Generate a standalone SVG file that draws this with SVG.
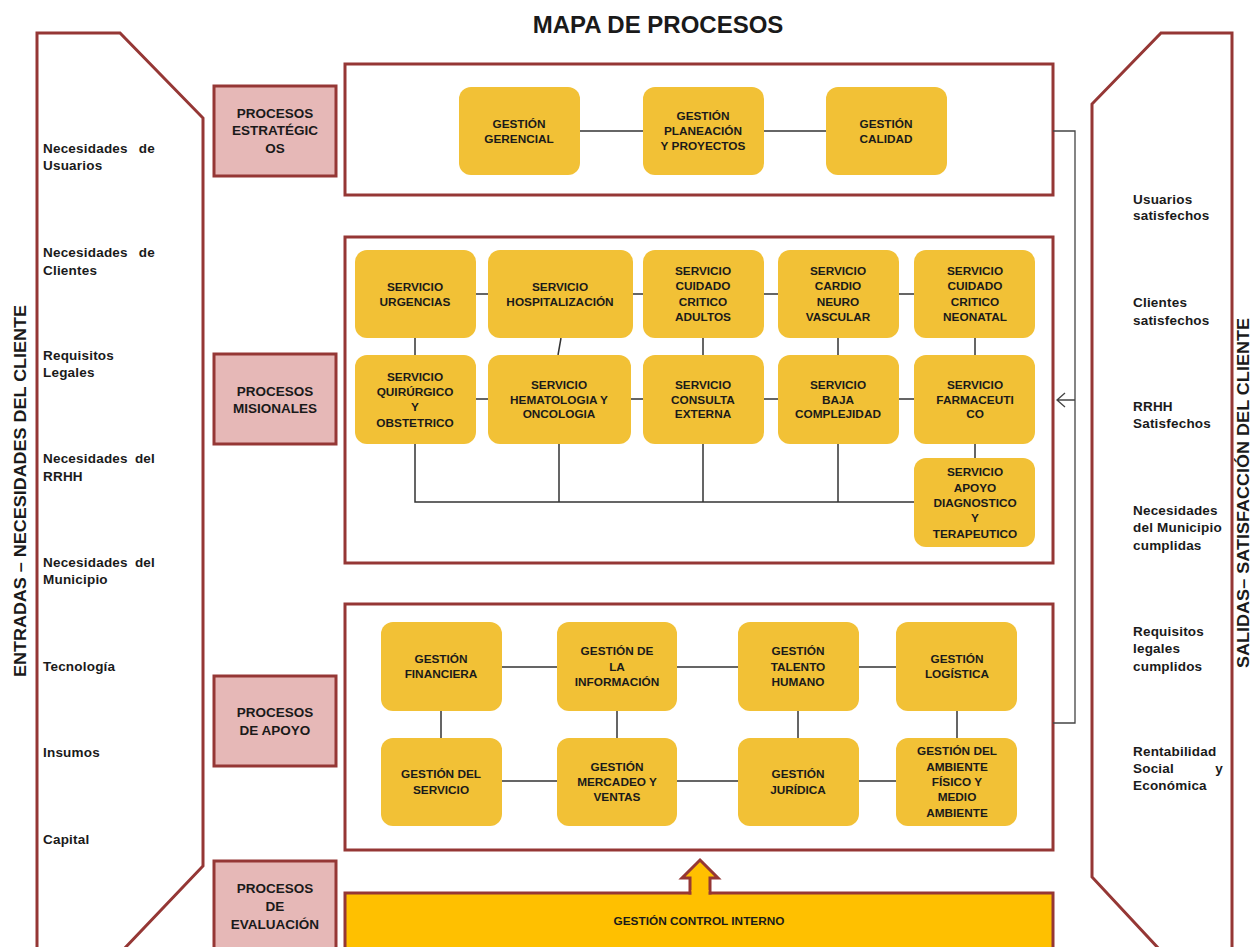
<svg xmlns="http://www.w3.org/2000/svg" width="1252" height="947" viewBox="0 0 1252 947">
<style>
.frame{fill:#fff;stroke:#953735;stroke-width:3}
.lbl{fill:#E6B8B7;stroke:#953735;stroke-width:3}
.node{fill:#F2C136;stroke:none}
.t{font-family:"Liberation Sans",Arial,sans-serif;font-weight:bold;font-size:11.8px;fill:#1a1a1a;text-anchor:middle}
.tl{font-family:"Liberation Sans",Arial,sans-serif;font-weight:bold;font-size:13.5px;fill:#1a1a1a;text-anchor:middle}
.side{font-family:"Liberation Sans",Arial,sans-serif;font-weight:bold;font-size:13.5px;letter-spacing:0.2px;fill:#1a1a1a}
.vt{font-family:"Liberation Sans",Arial,sans-serif;font-weight:bold;font-size:17px;fill:#1a1a1a;text-anchor:middle}
.c{stroke:#333;stroke-width:1.5;fill:none}
</style>
<rect width="1252" height="947" fill="#fff"/>
<text x="658" y="33" font-family="Liberation Sans,Arial,sans-serif" font-weight="bold" font-size="24" fill="#1a1a1a" text-anchor="middle">MAPA DE PROCESOS</text>

<g id="entradas">
<polygon points="37,960 37,33 120,33 203,118 203,866 123,950" class="frame"/>
<text class="vt" transform="translate(26,491) rotate(-90)" textLength="372" lengthAdjust="spacingAndGlyphs">ENTRADAS – NECESIDADES DEL CLIENTE</text>
<text class="side" x="43" y="153">Necesidades</text><text class="side" x="155" y="153" text-anchor="end">de</text>
<text class="side" x="43" y="170">Usuarios</text>
<text class="side" x="43" y="257">Necesidades</text><text class="side" x="155" y="257" text-anchor="end">de</text>
<text class="side" x="43" y="275">Clientes</text>
<text class="side" x="43" y="360">Requisitos</text>
<text class="side" x="43" y="377">Legales</text>
<text class="side" x="43" y="463">Necesidades</text><text class="side" x="155" y="463" text-anchor="end">del</text>
<text class="side" x="43" y="481">RRHH</text>
<text class="side" x="43" y="567">Necesidades</text><text class="side" x="155" y="567" text-anchor="end">del</text>
<text class="side" x="43" y="584">Municipio</text>
<text class="side" x="43" y="671">Tecnología</text>
<text class="side" x="43" y="757">Insumos</text>
<text class="side" x="43" y="844">Capital</text>
</g>

<g id="salidas">
<polygon points="1160,950 1092,877 1092,104 1161,33 1232,33 1232,960" class="frame"/>
<text class="vt" transform="translate(1249,493) rotate(-90)" textLength="350" lengthAdjust="spacingAndGlyphs">SALIDAS– SATISFACCIÓN DEL CLIENTE</text>
<text class="side" x="1133" y="204">Usuarios</text>
<text class="side" x="1133" y="220">satisfechos</text>
<text class="side" x="1133" y="307">Clientes</text>
<text class="side" x="1133" y="325">satisfechos</text>
<text class="side" x="1133" y="411">RRHH</text>
<text class="side" x="1133" y="428">Satisfechos</text>
<text class="side" x="1133" y="515">Necesidades</text>
<text class="side" x="1133" y="532">del Municipio</text>
<text class="side" x="1133" y="550">cumplidas</text>
<text class="side" x="1133" y="636">Requisitos</text>
<text class="side" x="1133" y="653">legales</text>
<text class="side" x="1133" y="671">cumplidos</text>
<text class="side" x="1133" y="756">Rentabilidad</text>
<text class="side" x="1133" y="773">Social</text><text class="side" x="1223" y="773" text-anchor="end">y</text>
<text class="side" x="1133" y="790">Económica</text>
</g>

<g id="lbl-estrategicos">
<rect x="214" y="86" width="122" height="90" class="lbl"/>
<text class="tl" x="275" y="118">PROCESOS</text><text class="tl" x="275" y="135">ESTRATÉGIC</text><text class="tl" x="275" y="153">OS</text>
</g>
<g id="lbl-misionales">
<rect x="214" y="354" width="122" height="90" class="lbl"/>
<text class="tl" x="275" y="396">PROCESOS</text><text class="tl" x="275" y="413">MISIONALES</text>
</g>
<g id="lbl-apoyo">
<rect x="214" y="676" width="122" height="90" class="lbl"/>
<text class="tl" x="275" y="717">PROCESOS</text><text class="tl" x="275" y="735">DE APOYO</text>
</g>
<g id="lbl-evaluacion">
<rect x="214" y="861" width="122" height="100" class="lbl"/>
<text class="tl" x="275" y="893">PROCESOS</text><text class="tl" x="275" y="911">DE</text><text class="tl" x="275" y="929">EVALUACIÓN</text>
</g>

<g id="frames">
<rect x="345" y="64" width="708" height="131" class="frame"/>
<rect x="345" y="237" width="708" height="326" class="frame"/>
<rect x="345" y="604" width="708" height="246" class="frame"/>
</g>

<g id="connectors">
<line x1="580" y1="131" x2="643" y2="131" class="c"/>
<line x1="764" y1="131" x2="826" y2="131" class="c"/>
<path d="M476,294H488 M633,294H643 M764,294H778 M899,294H914" class="c"/>
<path d="M476,399H488 M631,399H643 M764,399H778 M899,399H914" class="c"/>
<path d="M415,338V355 M561,338L558,355 M703,338V355 M838,338V355 M975,338V355 M975,444V458" class="c"/>
<path d="M415,444V502H914 M559,444V502 M703,444V502 M838,444V502" class="c"/>
<path d="M502,667H557 M677,667H738 M859,667H896" class="c"/>
<path d="M502,781H557 M677,781H738 M859,781H896" class="c"/>
<path d="M441,711V738 M617,711V738 M798,711V738 M957,711V738" class="c"/>
<path d="M1053,131H1075V723H1053 M1075,400H1057 M1065,393L1057,400L1065,407" stroke="#444" stroke-width="1.3" fill="none"/>
</g>

<g id="n-gerencial"><rect class="node" x="459" y="87" width="121" height="88" rx="12"/><text class="t" x="519" y="128">GESTIÓN</text><text class="t" x="519" y="143">GERENCIAL</text></g>
<g id="n-planeacion"><rect class="node" x="643" y="87" width="121" height="88" rx="12"/><text class="t" x="703" y="120">GESTIÓN</text><text class="t" x="703" y="135">PLANEACIÓN</text><text class="t" x="703" y="150">Y PROYECTOS</text></g>
<g id="n-calidad"><rect class="node" x="826" y="87" width="121" height="88" rx="12"/><text class="t" x="886" y="128">GESTIÓN</text><text class="t" x="886" y="143">CALIDAD</text></g>

<g id="n-urgencias"><rect class="node" x="355" y="250" width="121" height="88" rx="12"/><text class="t" x="415" y="291">SERVICIO</text><text class="t" x="415" y="306">URGENCIAS</text></g>
<g id="n-hospitalizacion"><rect class="node" x="488" y="250" width="145" height="88" rx="12"/><text class="t" x="560" y="291">SERVICIO</text><text class="t" x="560" y="306">HOSPITALIZACIÓN</text></g>
<g id="n-adultos"><rect class="node" x="643" y="250" width="121" height="88" rx="12"/><text class="t" x="703" y="275">SERVICIO</text><text class="t" x="703" y="290">CUIDADO</text><text class="t" x="703" y="306">CRITICO</text><text class="t" x="703" y="321">ADULTOS</text></g>
<g id="n-cardio"><rect class="node" x="778" y="250" width="121" height="88" rx="12"/><text class="t" x="838" y="275">SERVICIO</text><text class="t" x="838" y="290">CARDIO</text><text class="t" x="838" y="306">NEURO</text><text class="t" x="838" y="321">VASCULAR</text></g>
<g id="n-neonatal"><rect class="node" x="914" y="250" width="121" height="88" rx="12"/><text class="t" x="975" y="275">SERVICIO</text><text class="t" x="975" y="290">CUIDADO</text><text class="t" x="975" y="306">CRITICO</text><text class="t" x="975" y="321">NEONATAL</text></g>

<g id="n-quirurgico"><rect class="node" x="355" y="355" width="121" height="89" rx="12"/><text class="t" x="415" y="381">SERVICIO</text><text class="t" x="415" y="396">QUIRÚRGICO</text><text class="t" x="415" y="411">Y</text><text class="t" x="415" y="427">OBSTETRICO</text></g>
<g id="n-hematologia"><rect class="node" x="488" y="355" width="143" height="89" rx="12"/><text class="t" x="559" y="389">SERVICIO</text><text class="t" x="559" y="404">HEMATOLOGIA Y</text><text class="t" x="559" y="418">ONCOLOGIA</text></g>
<g id="n-consulta"><rect class="node" x="643" y="355" width="121" height="89" rx="12"/><text class="t" x="703" y="389">SERVICIO</text><text class="t" x="703" y="404">CONSULTA</text><text class="t" x="703" y="418">EXTERNA</text></g>
<g id="n-baja"><rect class="node" x="778" y="355" width="121" height="89" rx="12"/><text class="t" x="838" y="389">SERVICIO</text><text class="t" x="838" y="404">BAJA</text><text class="t" x="838" y="418">COMPLEJIDAD</text></g>
<g id="n-farmaceutico"><rect class="node" x="914" y="355" width="121" height="89" rx="12"/><text class="t" x="975" y="389">SERVICIO</text><text class="t" x="975" y="404">FARMACEUTI</text><text class="t" x="975" y="418">CO</text></g>
<g id="n-apoyo-diag"><rect class="node" x="914" y="458" width="121" height="89" rx="12"/><text class="t" x="975" y="476">SERVICIO</text><text class="t" x="975" y="492">APOYO</text><text class="t" x="975" y="507">DIAGNOSTICO</text><text class="t" x="975" y="522">Y</text><text class="t" x="975" y="538">TERAPEUTICO</text></g>

<g id="n-financiera"><rect class="node" x="381" y="622" width="121" height="89" rx="12"/><text class="t" x="441" y="663">GESTIÓN</text><text class="t" x="441" y="678">FINANCIERA</text></g>
<g id="n-informacion"><rect class="node" x="557" y="622" width="120" height="89" rx="12"/><text class="t" x="617" y="655">GESTIÓN DE</text><text class="t" x="617" y="671">LA</text><text class="t" x="617" y="686">INFORMACIÓN</text></g>
<g id="n-talento"><rect class="node" x="738" y="622" width="121" height="89" rx="12"/><text class="t" x="798" y="655">GESTIÓN</text><text class="t" x="798" y="671">TALENTO</text><text class="t" x="798" y="686">HUMANO</text></g>
<g id="n-logistica"><rect class="node" x="896" y="622" width="121" height="89" rx="12"/><text class="t" x="957" y="663">GESTIÓN</text><text class="t" x="957" y="678">LOGÍSTICA</text></g>
<g id="n-servicio"><rect class="node" x="381" y="738" width="121" height="88" rx="12"/><text class="t" x="441" y="778">GESTIÓN DEL</text><text class="t" x="441" y="794">SERVICIO</text></g>
<g id="n-mercadeo"><rect class="node" x="557" y="738" width="120" height="88" rx="12"/><text class="t" x="617" y="771">GESTIÓN</text><text class="t" x="617" y="786">MERCADEO Y</text><text class="t" x="617" y="801">VENTAS</text></g>
<g id="n-juridica"><rect class="node" x="738" y="738" width="121" height="88" rx="12"/><text class="t" x="798" y="778">GESTIÓN</text><text class="t" x="798" y="794">JURÍDICA</text></g>
<g id="n-ambiente"><rect class="node" x="896" y="738" width="121" height="88" rx="12"/><text class="t" x="957" y="755">GESTIÓN DEL</text><text class="t" x="957" y="771">AMBIENTE</text><text class="t" x="957" y="786">FÍSICO Y</text><text class="t" x="957" y="801">MEDIO</text><text class="t" x="957" y="817">AMBIENTE</text></g>

<g id="n-control-interno">
<rect x="345" y="893" width="708" height="70" fill="#FFC000" stroke="#953735" stroke-width="3"/>
<polygon points="700,860 718,878 710,878 710,893 690,893 690,878 682,878" fill="#FFC000" stroke="#953735" stroke-width="3" stroke-linejoin="miter"/>
<rect x="691.5" y="890" width="17" height="6" fill="#FFC000"/>
<text class="t" x="699" y="925">GESTIÓN CONTROL INTERNO</text>
</g>
</svg>
